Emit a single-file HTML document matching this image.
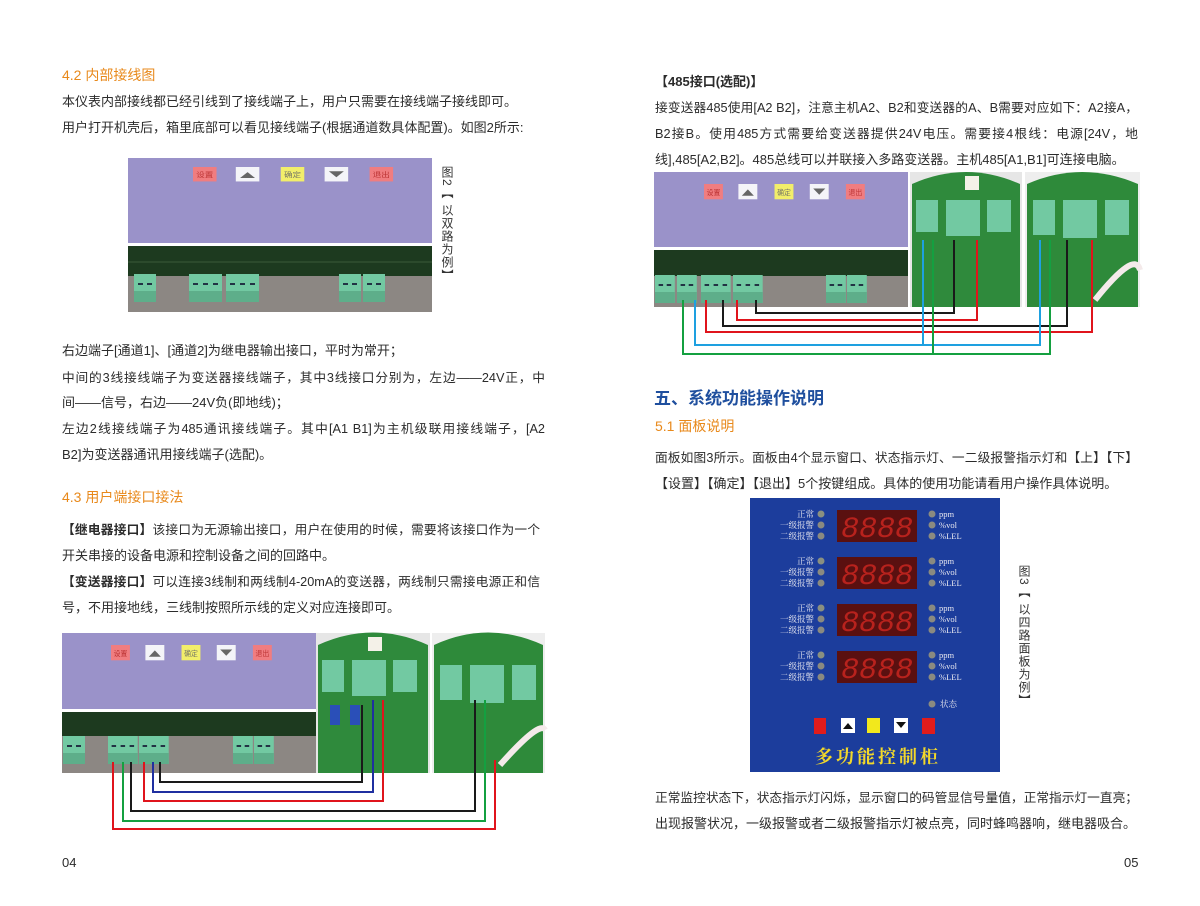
<!DOCTYPE html>
<html><head><meta charset="utf-8">
<style>
*{margin:0;padding:0;box-sizing:border-box}
body{width:1200px;height:906px;background:#fff;position:relative;overflow:hidden;font-family:"Liberation Sans","Noto Sans CJK SC",sans-serif;color:#2b2b2b}
.t{position:absolute;font-size:13px;line-height:16px;white-space:nowrap}
.j{text-align:justify;text-align-last:justify;white-space:normal;font-size:12.7px;height:16px;overflow:visible}
.h{position:absolute;font-size:14px;color:#e8891b;white-space:nowrap;line-height:18px}
.b{font-weight:bold}
svg{position:absolute;left:0;top:0}
</style></head><body>

<div class="h" style="left:62px;top:66px">4.2 内部接线图</div>
<div class="t" style="left:62px;top:94px">本仪表内部接线都已经引线到了接线端子上，用户只需要在接线端子接线即可。</div>
<div class="t" style="left:62px;top:120px">用户打开机壳后，箱里底部可以看见接线端子(根据通道数具体配置)。如图2所示:</div>

<div class="t" style="left:62px;top:343px">右边端子[通道1]、[通道2]为继电器输出接口，平时为常开；</div>
<div class="t j" style="left:62px;top:370px;width:483px">中间的3线接线端子为变送器接线端子，其中3线接口分别为，左边——24V正，中</div>
<div class="t" style="left:62px;top:395px">间——信号，右边——24V负(即地线)；</div>
<div class="t j" style="left:62px;top:421px;width:483px">左边2线接线端子为485通讯接线端子。其中[A1 B1]为主机级联用接线端子，[A2</div>
<div class="t" style="left:62px;top:447px">B2]为变送器通讯用接线端子(选配)。</div>

<div class="h" style="left:62px;top:488px">4.3 用户端接口接法</div>
<div class="t j" style="left:62px;top:522px;width:478px"><span class="b">【继电器接口】</span>该接口为无源输出接口，用户在使用的时候，需要将该接口作为一个</div>
<div class="t" style="left:62px;top:548px">开关串接的设备电源和控制设备之间的回路中。</div>
<div class="t j" style="left:62px;top:574px;width:478px"><span class="b">【变送器接口】</span>可以连接3线制和两线制4-20mA的变送器，两线制只需接电源正和信</div>
<div class="t" style="left:62px;top:600px">号，不用接地线，三线制按照所示线的定义对应连接即可。</div>

<div class="t" style="left:62px;top:855px;font-size:13px">04</div>

<div class="t b" style="left:655px;top:74px">【485接口(选配)】</div>
<div class="t j" style="left:655px;top:100px;width:483px">接变送器485使用[A2 B2]，注意主机A2、B2和变送器的A、B需要对应如下：A2接A，</div>
<div class="t j" style="left:655px;top:126px;width:483px">B2接B。使用485方式需要给变送器提供24V电压。需要接4根线：电源[24V，地</div>
<div class="t" style="left:655px;top:152px">线],485[A2,B2]。485总线可以并联接入多路变送器。主机485[A1,B1]可连接电脑。</div>

<div style="position:absolute;left:654px;top:384px;font-size:17px;font-weight:bold;color:#1f4f9e;white-space:nowrap">五、系统功能操作说明</div>
<div class="h" style="left:655px;top:417px">5.1 面板说明</div>
<div class="t j" style="left:655px;top:450px;width:483px">面板如图3所示。面板由4个显示窗口、状态指示灯、一二级报警指示灯和【上】【下】</div>
<div class="t" style="left:655px;top:476px">【设置】【确定】【退出】5个按键组成。具体的使用功能请看用户操作具体说明。</div>

<div class="t j" style="left:655px;top:790px;width:483px">正常监控状态下，状态指示灯闪烁，显示窗口的码管显信号量值，正常指示灯一直亮；</div>
<div class="t" style="left:655px;top:816px">出现报警状况，一级报警或者二级报警指示灯被点亮，同时蜂鸣器响，继电器吸合。</div>
<div class="t" style="left:1124px;top:855px;font-size:13px">05</div>

<svg width="1200" height="906" viewBox="0 0 1200 906" font-family="Liberation Sans, Noto Sans CJK SC, sans-serif">
<defs>
<g id="btns">
 <rect x="0" y="0" width="22" height="17" fill="#f07d80"/><text x="11" y="12" font-size="8" fill="#b33" text-anchor="middle">设置</text>
 <rect x="40" y="0" width="22" height="17" fill="#f4f4f8"/><path d="M44 13 L51 6 L58 13Z" fill="#666"/>
 <rect x="82" y="0" width="22" height="17" fill="#f2ee6a"/><text x="93" y="12" font-size="8" fill="#776" text-anchor="middle">确定</text>
 <rect x="123" y="0" width="22" height="17" fill="#f4f4f8"/><path d="M127 5 L141 5 L134 12Z" fill="#666"/>
 <rect x="165" y="0" width="22" height="17" fill="#f07d80"/><text x="176" y="12" font-size="8" fill="#b33" text-anchor="middle">退出</text>
</g>
<g id="term2"><rect width="22" height="28" fill="#72c9a2"/><rect x="4" y="9" width="5" height="2" fill="#234"/><rect x="13" y="9" width="5" height="2" fill="#234"/><rect x="0" y="17" width="22" height="11" fill="#5eae8a"/></g>
<g id="term3"><rect width="33" height="28" fill="#72c9a2"/><rect x="4" y="9" width="5" height="2" fill="#234"/><rect x="14" y="9" width="5" height="2" fill="#234"/><rect x="24" y="9" width="5" height="2" fill="#234"/><rect x="0" y="17" width="33" height="11" fill="#5eae8a"/></g>
</defs>

<!-- Figure 2 -->
<rect x="128" y="158" width="304" height="85" fill="#9a92c9"/>
<use href="#btns" transform="translate(193,167) scale(1.07,0.85)"/>
<rect x="128" y="246" width="304" height="30" fill="#1d3a1f"/>
<line x1="128" y1="262" x2="432" y2="262" stroke="#3a5a3a" stroke-width="1"/>
<rect x="128" y="276" width="304" height="36" fill="#8c8783"/>
<use href="#term2" transform="translate(134,274)"/>
<use href="#term3" transform="translate(189,274)"/>
<use href="#term3" transform="translate(226,274)"/>
<use href="#term2" transform="translate(339,274)"/>
<use href="#term2" transform="translate(363,274)"/>
<text font-size="12" fill="#333" writing-mode="tb" x="447" y="166" letter-spacing="1">图2【 以双路为例】</text>

<!-- Bottom-left figure -->
<rect x="62" y="633" width="254" height="76" fill="#9a92c9"/>
<use href="#btns" transform="translate(111,645) scale(0.86,0.9)"/>
<rect x="62" y="712" width="254" height="24" fill="#1d3a1f"/>
<rect x="62" y="736" width="254" height="37" fill="#8c8783"/>
<use href="#term2" transform="translate(63,736) scale(1,1)"/>
<use href="#term3" transform="translate(108,736) scale(0.9,1)"/>
<use href="#term3" transform="translate(139,736) scale(0.9,1)"/>
<use href="#term2" transform="translate(233,736) scale(0.9,1)"/>
<use href="#term2" transform="translate(254,736) scale(0.9,1)"/>
<rect x="316" y="633" width="114" height="140" fill="#e6e6e6"/>
<path d="M318 645 Q373 620 428 645 L428 773 L318 773Z" fill="#2f8a3c"/>
<rect x="322" y="660" width="22" height="32" fill="#72c9a2"/>
<rect x="352" y="660" width="34" height="36" fill="#72c9a2"/>
<rect x="393" y="660" width="24" height="32" fill="#72c9a2"/>
<rect x="368" y="637" width="14" height="14" fill="#f4f1e8"/>
<rect x="330" y="705" width="10" height="20" fill="#2a4fb8"/><rect x="350" y="705" width="10" height="20" fill="#2a4fb8"/>
<rect x="432" y="633" width="113" height="140" fill="#eeeeee"/>
<path d="M434 645 Q488 620 543 645 L543 773 L434 773Z" fill="#2e8a3a"/>
<rect x="440" y="665" width="22" height="35" fill="#72c9a2"/>
<rect x="470" y="665" width="34" height="38" fill="#72c9a2"/>
<rect x="512" y="665" width="24" height="35" fill="#72c9a2"/>
<path d="M500 765 Q540 720 545 730" stroke="#f4eaea" stroke-width="6" fill="none"/>
<g fill="none" stroke-width="2">
<path d="M160 762 V782 H362 V705" stroke="#1a1a1a"/>
<path d="M153 762 V792 H373 V700" stroke="#1f2fa0"/>
<path d="M144 762 V801 H383 V700" stroke="#e0141c"/>
<path d="M131 762 V811 H475 V700" stroke="#1a1a1a"/>
<path d="M123 762 V821 H485 V700" stroke="#14a040"/>
<path d="M113 762 V829 H495 V760" stroke="#e0141c"/>
</g>

<!-- Top-right figure -->
<rect x="654" y="172" width="254" height="75" fill="#9a92c9"/>
<use href="#btns" transform="translate(704,184) scale(0.86,0.9)"/>
<rect x="654" y="250" width="254" height="26" fill="#1d3a1f"/>
<rect x="654" y="276" width="254" height="31" fill="#8c8783"/>
<use href="#term2" transform="translate(655,275) scale(0.9,1)"/>
<use href="#term2" transform="translate(677,275) scale(0.9,1)"/>
<use href="#term3" transform="translate(701,275) scale(0.9,1)"/>
<use href="#term3" transform="translate(733,275) scale(0.9,1)"/>
<use href="#term2" transform="translate(826,275) scale(0.9,1)"/>
<use href="#term2" transform="translate(847,275) scale(0.9,1)"/>
<rect x="910" y="172" width="112" height="135" fill="#e6e6e6"/>
<path d="M912 184 Q966 160 1020 184 L1020 307 L912 307Z" fill="#2f8a3c"/>
<rect x="916" y="200" width="22" height="32" fill="#72c9a2"/>
<rect x="946" y="200" width="34" height="36" fill="#72c9a2"/>
<rect x="987" y="200" width="24" height="32" fill="#72c9a2"/>
<rect x="965" y="176" width="14" height="14" fill="#f4f1e8"/>
<rect x="1025" y="172" width="115" height="135" fill="#eeeeee"/>
<path d="M1027 184 Q1082 160 1138 184 L1138 307 L1027 307Z" fill="#2e8a3a"/>
<rect x="1033" y="200" width="22" height="35" fill="#72c9a2"/>
<rect x="1063" y="200" width="34" height="38" fill="#72c9a2"/>
<rect x="1105" y="200" width="24" height="35" fill="#72c9a2"/>
<path d="M1095 300 Q1135 250 1140 270" stroke="#f4eaea" stroke-width="6" fill="none"/>
<g fill="none" stroke-width="2">
<path d="M756 300 V313 H954 V240" stroke="#1a1a1a"/>
<path d="M737 300 V320 H977 V240" stroke="#e0141c"/>
<path d="M723 300 V326 H1067 V240" stroke="#1a1a1a"/>
<path d="M706 300 V332 H1092 V240" stroke="#e0141c"/>
<path d="M695 300 V345 H1040 V240" stroke="#1ea0e0"/>
<path d="M923 240 V345" stroke="#1ea0e0"/>
<path d="M683 300 V354 H1050 V240" stroke="#14a040"/>
<path d="M933 240 V354" stroke="#14a040"/>
</g>

<!-- Panel fig 3 -->
<rect x="750" y="498" width="250" height="274" fill="#1c3d9c"/>
<g font-family="Liberation Serif, Noto Serif CJK SC, serif" font-size="8.5" fill="#e8e8f0">
<g id="row">
 <text x="814" y="517" text-anchor="end">正常</text>
 <text x="814" y="528" text-anchor="end">一级报警</text>
 <text x="814" y="539" text-anchor="end">二级报警</text>
 <circle cx="821" cy="514" r="3.5" fill="#8a9080"/><circle cx="821" cy="525" r="3.5" fill="#8a8a80"/><circle cx="821" cy="536" r="3.5" fill="#8a8a80"/>
 <rect x="837" y="510" width="80" height="32" fill="#5a1010"/>
 <text x="877" y="537" font-family="Liberation Mono, monospace" font-size="30" fill="#b8221d" text-anchor="middle" font-style="italic">8888</text>
 <circle cx="932" cy="514" r="3.5" fill="#8a8a80"/><circle cx="932" cy="525" r="3.5" fill="#8a8a80"/><circle cx="932" cy="536" r="3.5" fill="#8a8a80"/>
 <text x="939" y="517">ppm</text><text x="939" y="528">%vol</text><text x="939" y="539">%LEL</text>
</g>
<use href="#row" transform="translate(0,47)"/>
<use href="#row" transform="translate(0,94)"/>
<use href="#row" transform="translate(0,141)"/>
<circle cx="932" cy="704" r="3.5" fill="#8a8a80"/>
<text x="940" y="707">状态</text>
</g>
<rect x="814" y="718" width="12" height="16" fill="#e01c1c"/>
<rect x="841" y="718" width="14" height="15" fill="#fff"/><path d="M843 729 L848 723 L853 729Z" fill="#111"/>
<rect x="867" y="718" width="13" height="15" fill="#f2e81c"/>
<rect x="894" y="718" width="14" height="15" fill="#fff"/><path d="M896 722 L906 722 L901 728Z" fill="#111"/>
<rect x="922" y="718" width="13" height="16" fill="#e01c1c"/>
<text x="878" y="763" font-family="Noto Serif CJK SC, serif" font-size="18" font-weight="bold" fill="#f2d82a" text-anchor="middle" letter-spacing="3">多功能控制柜</text>
<text font-size="12" fill="#333" writing-mode="tb" x="1024" y="565" letter-spacing="1">图3【 以四路面板为例】</text>
</svg>
</body></html>
